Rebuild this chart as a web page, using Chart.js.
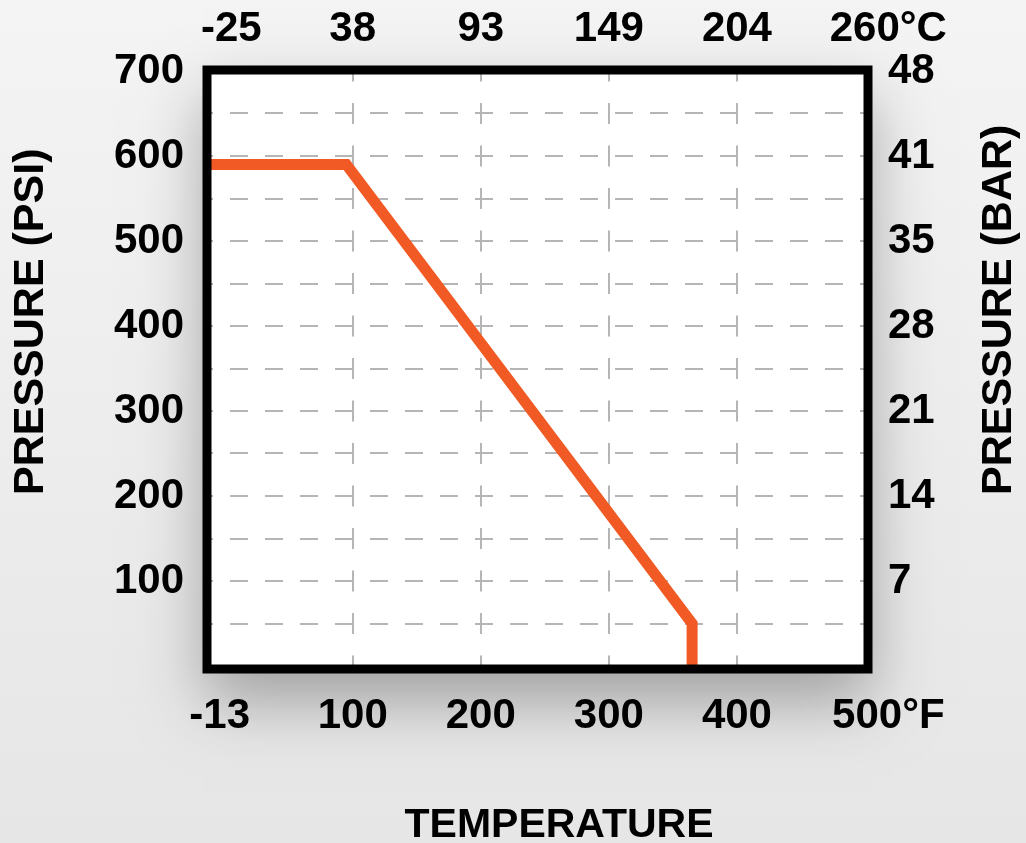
<!DOCTYPE html>
<html>
<head>
<meta charset="utf-8">
<script src="https://cdn.jsdelivr.net/npm/chart.js@4.4.0/dist/chart.umd.min.js"></script>
<style>
  body { margin: 0; background: #eeeeee; }
  canvas { display: block; }
</style>
</head>
<body>
<canvas id="rating" width="1026" height="843"></canvas>
<script>
// pressure / temperature rating curve
const tempF = [-13, 95, 365, 365];
const pressurePsi = [590, 590, 50, 0];

const fTicks = [-13, 100, 200, 300, 400, 500];
const fLabels = ['  -13', '100', '200', '300', '400', '    500°F'];
const cLabels = ['    -25', '38', '93', '149', '204', '    260°C'];
const psiTicks = [100, 200, 300, 400, 500, 600, 700];
const barLabels = ['7', '14', '21', '28', '35', '41', '48'];

const titlePsi = 'PRESSURE (PSI)';
const titleBar = 'PRESSURE (BAR)';
const titleTemp = 'TEMPERATURE';

const FONT = "'Liberation Sans', Arial, sans-serif";
const tickFont = { family: FONT, size: 42, weight: 'bold' };

function setTempTicks(scale) {
    scale.ticks = fTicks.map(v => ({ value: v }));
}

const backdrop = {
    id: 'backdrop',
    beforeDraw(chart) {
        const { ctx, chartArea: ca, width, height } = chart;
        ctx.save();
        let g = ctx.createLinearGradient(0, 0, 0, height);
        g.addColorStop(0, '#f4f4f4');
        g.addColorStop(1, '#e6e6e6');
        ctx.fillStyle = g;
        ctx.fillRect(0, 0, width, height);
        ctx.shadowColor = 'rgba(0,0,0,0.30)';
        ctx.shadowBlur = 60;
        ctx.shadowOffsetY = 30;
        ctx.fillStyle = '#ffffff';
        ctx.fillRect(ca.left - 5, ca.top - 5, ca.width + 12, ca.height + 12);
        ctx.restore();
    },
    afterDatasetsDraw(chart) {
        const { ctx, chartArea: ca } = chart;
        ctx.save();
        ctx.lineWidth = 9;
        ctx.strokeStyle = '#000000';
        ctx.strokeRect(ca.left - 1, ca.top - 1, ca.width + 4, ca.height + 4);
        ctx.restore();
    },
    afterDraw(chart) {
        const ctx = chart.ctx;
        ctx.save();
        ctx.fillStyle = '#000000';
        ctx.font = 'bold 41px ' + FONT;
        ctx.textBaseline = 'alphabetic';
        ctx.textAlign = 'center';
        ctx.fillText(titleTemp, 559, 837);
        ctx.restore();

        ctx.save();
        ctx.fillStyle = '#000000';
        ctx.font = 'bold 43px ' + FONT;
        ctx.textAlign = 'left';
        ctx.translate(43, 495);
        ctx.rotate(-Math.PI / 2);
        ctx.fillText(titlePsi, 0, 0);
        ctx.restore();

        ctx.save();
        ctx.fillStyle = '#000000';
        ctx.font = 'bold 43px ' + FONT;
        ctx.textAlign = 'left';
        ctx.translate(1011, 495);
        ctx.rotate(-Math.PI / 2);
        ctx.fillText(titleBar, 0, 0);
        ctx.restore();
    }
};

new Chart(document.getElementById('rating'), {
    type: 'line',
    data: {
        datasets: [{
            data: tempF.map((t, i) => ({ x: t, y: pressurePsi[i] })),
            borderColor: '#f15a24',
            borderWidth: 11,
            pointRadius: 0,
            tension: 0,
            xAxisID: 'x',
            yAxisID: 'y'
        }]
    },
    options: {
        responsive: false,
        animation: false,
        devicePixelRatio: 1,
        layout: { padding: 0 },
        plugins: {
            legend: { display: false },
            tooltip: { enabled: false }
        },
        scales: {
            x: {
                type: 'linear',
                position: 'bottom',
                min: -13,
                max: 500,
                afterBuildTicks: setTempTicks,
                afterFit(scale) { scale.height = 843 - 666; },
                grid: { color: '#b5b5b5', lineWidth: 2, drawTicks: false },
                border: { display: false, dash: [21, 21.5], dashOffset: 10.5 },
                ticks: {
                    autoSkip: false,
                    maxRotation: 0,
                    padding: 25,
                    color: '#000000',
                    font: tickFont,
                    callback: v => fLabels[fTicks.indexOf(v)] || ''
                }
            },
            x2: {
                type: 'linear',
                position: 'top',
                min: -13,
                max: 500,
                afterBuildTicks: setTempTicks,
                afterFit(scale) { scale.height = 71; },
                grid: { display: false, drawTicks: false },
                border: { display: false },
                ticks: {
                    autoSkip: false,
                    maxRotation: 0,
                    padding: 16,
                    color: '#000000',
                    font: tickFont,
                    callback: v => cLabels[fTicks.indexOf(v)] || ''
                }
            },
            y: {
                type: 'linear',
                position: 'left',
                min: 0,
                max: 700,
                afterFit(scale) { scale.width = 208; },
                grid: { color: '#b5b5b5', lineWidth: 2, drawTicks: false },
                border: { display: false, dash: [18, 17], dashOffset: 13 },
                ticks: {
                    stepSize: 50,
                    autoSkip: false,
                    padding: 24,
                    color: '#000000',
                    font: tickFont,
                    callback: v => psiTicks.includes(v) ? String(v) : ''
                }
            },
            y2: {
                type: 'linear',
                position: 'right',
                min: 0,
                max: 700,
                afterFit(scale) { scale.width = 1026 - 865; },
                grid: { display: false, drawTicks: false },
                border: { display: false },
                ticks: {
                    stepSize: 50,
                    autoSkip: false,
                    padding: 23,
                    color: '#000000',
                    font: tickFont,
                    callback: v => barLabels[psiTicks.indexOf(v)] || ''
                }
            }
        }
    },
    plugins: [backdrop]
});
</script>
</body>
</html>
